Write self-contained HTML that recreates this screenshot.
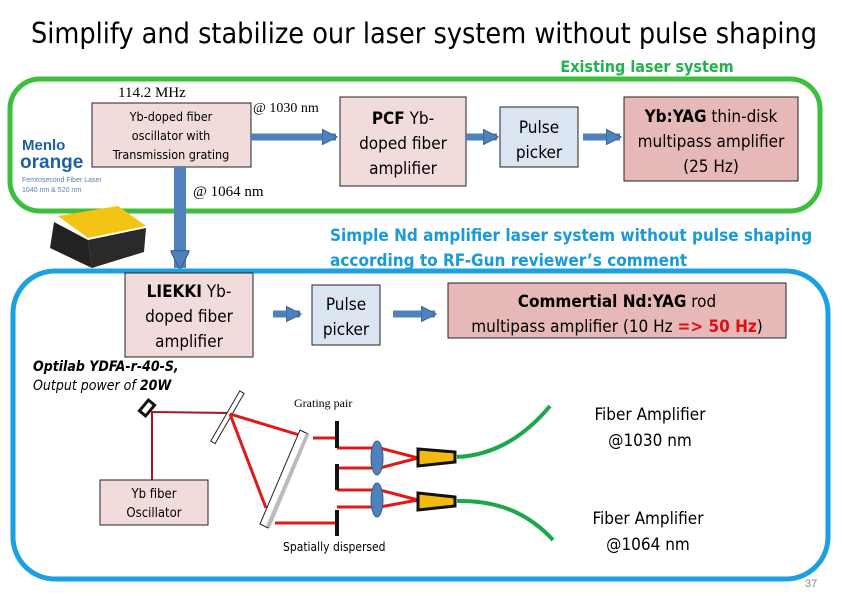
<!DOCTYPE html>
<html><head><meta charset="utf-8"><style>
html,body{margin:0;padding:0;background:#fff}
svg{display:block;font-family:"Liberation Sans",sans-serif}
.c{font-family:"DejaVu Sans Condensed","Liberation Sans",sans-serif}
.s{font-family:"Liberation Serif",serif}
</style></head><body>
<svg width="842" height="596" viewBox="0 0 842 596" xmlns="http://www.w3.org/2000/svg">
<defs>
<marker id="ah" viewBox="0 0 10 10" refX="9" refY="5" markerWidth="2.2" markerHeight="2.4" orient="auto" markerUnits="strokeWidth"><path d="M0,0 L10,5 L0,10 z" fill="#4f81bd" stroke="#385d8a" stroke-width="0.6"/></marker>
<marker id="ah2" viewBox="0 0 10 10" refX="9" refY="5" markerWidth="1.8" markerHeight="1.6" orient="auto" markerUnits="strokeWidth"><path d="M0,0 L10,5 L0,10 z" fill="#4f81bd" stroke="#385d8a" stroke-width="0.6"/></marker>
</defs>
<text x="424" y="43" text-anchor="middle" font-size="28.5" class="c" fill="#000">Simplify and stabilize our laser system without pulse shaping</text>
<text x="647" y="72" text-anchor="middle" font-size="16" font-weight="bold" fill="#22b24c" class="c">Existing laser system</text>
<rect x="10" y="79" width="810" height="132" rx="30" fill="none" stroke="#3cc03c" stroke-width="5"/>
<text x="22" y="150" font-size="15" font-weight="bold" fill="#1f5fa8">Menlo</text>
<text x="20" y="168" font-size="19" font-weight="bold" fill="#1f5fa8">orange</text>
<text x="22" y="182" font-size="7" fill="#5a7fb0">Femtosecond Fiber Laser</text>
<text x="22" y="192" font-size="7" fill="#5a7fb0">1040 nm &amp; 520 nm</text>
<polygon points="58,216 118,206 146,226 88,238" fill="#f3c414"/>
<polygon points="54,222 88,240 92,268 50,248" fill="#222"/>
<polygon points="88,240 146,228 144,252 92,268" fill="#2a2a2a"/>
<text x="118" y="97" font-size="15" class="s">114.2 MHz</text>
<rect x="92" y="103" width="159" height="64" fill="#f2dcdb" stroke="#222" stroke-width="1"/>
<text font-size="12.5" text-anchor="middle" class="c"><tspan x="171" y="121">Yb-doped fiber</tspan><tspan x="171" y="140">oscillator with</tspan><tspan x="171" y="159">Transmission grating</tspan></text>
<text x="253" y="112" font-size="14" class="s">@ 1030 nm</text>
<line x1="251" y1="137" x2="336" y2="137" stroke="#4f81bd" stroke-width="7" marker-end="url(#ah)"/>
<rect x="340" y="97" width="126" height="89" fill="#f2dcdb" stroke="#222" stroke-width="1"/>
<text font-size="17" text-anchor="middle" class="c"><tspan x="403" y="124"><tspan font-weight="bold">PCF</tspan> Yb-</tspan><tspan x="403" y="149">doped fiber</tspan><tspan x="403" y="174">amplifier</tspan></text>
<line x1="466" y1="137" x2="497" y2="137" stroke="#4f81bd" stroke-width="7" marker-end="url(#ah)"/>
<rect x="500" y="107" width="78" height="60" fill="#dbe5f1" stroke="#222" stroke-width="1"/>
<text font-size="17" text-anchor="middle" class="c"><tspan x="539" y="133">Pulse</tspan><tspan x="539" y="158">picker</tspan></text>
<line x1="583" y1="137" x2="620" y2="137" stroke="#4f81bd" stroke-width="7" marker-end="url(#ah)"/>
<rect x="624" y="97" width="174" height="84" fill="#e6b9b8" stroke="#222" stroke-width="1"/>
<text font-size="17" text-anchor="middle" class="c"><tspan x="711" y="122"><tspan font-weight="bold">Yb:YAG</tspan> thin-disk</tspan><tspan x="711" y="147">multipass amplifier</tspan><tspan x="711" y="172">(25 Hz)</tspan></text>
<line x1="180" y1="167" x2="180" y2="268" stroke="#4f81bd" stroke-width="12" marker-end="url(#ah2)"/>
<text x="193" y="196" font-size="15" class="s">@ 1064 nm</text>
<text font-size="17" font-weight="bold" fill="#1a9ad8" class="c"><tspan x="330" y="241">Simple Nd amplifier laser system without pulse shaping</tspan><tspan x="330" y="266">according to RF-Gun reviewer’s comment</tspan></text>
<rect x="13" y="271" width="815" height="308" rx="42" fill="none" stroke="#1ba1e2" stroke-width="5"/>
<rect x="125" y="273" width="128" height="84" fill="#f2dcdb" stroke="#222" stroke-width="1"/>
<text font-size="17" text-anchor="middle" class="c"><tspan x="189" y="297"><tspan font-weight="bold">LIEKKI</tspan> Yb-</tspan><tspan x="189" y="322">doped fiber</tspan><tspan x="189" y="347">amplifier</tspan></text>
<line x1="273" y1="314" x2="300" y2="314" stroke="#4f81bd" stroke-width="7" marker-end="url(#ah)"/>
<rect x="312" y="285" width="68" height="60" fill="#dbe5f1" stroke="#222" stroke-width="1"/>
<text font-size="17" text-anchor="middle" class="c"><tspan x="346" y="310">Pulse</tspan><tspan x="346" y="335">picker</tspan></text>
<line x1="393" y1="314" x2="435" y2="314" stroke="#4f81bd" stroke-width="7" marker-end="url(#ah)"/>
<rect x="448" y="283" width="338" height="55" fill="#e6b9b8" stroke="#222" stroke-width="1"/>
<text font-size="17" text-anchor="middle" class="c"><tspan x="617" y="307"><tspan font-weight="bold">Commertial Nd:YAG</tspan> rod</tspan><tspan x="617" y="332">multipass amplifier (10 Hz <tspan fill="#e01010" font-weight="bold">=&gt; 50 Hz</tspan>)</tspan></text>
<text font-size="14" font-style="italic" class="c"><tspan x="33" y="371" font-weight="bold">Optilab  YDFA-r-40-S,</tspan><tspan x="33" y="390">Output power of <tspan font-weight="bold">20W</tspan></tspan></text>
<rect x="140" y="404" width="14" height="8" transform="rotate(-50 147 408)" fill="#fff" stroke="#111" stroke-width="3"/>
<polyline points="152,480 152,412 230,413" fill="none" stroke="#a01820" stroke-width="2"/>
<rect x="225" y="388" width="5" height="58" transform="rotate(30 227 417)" fill="#fff" stroke="#222" stroke-width="1"/>
<g stroke="#e01818" stroke-width="3" fill="none">
<line x1="230" y1="414" x2="306" y2="437"/>
<line x1="230" y1="414" x2="266" y2="508"/>
<line x1="313" y1="438" x2="337" y2="438"/>
<line x1="337" y1="448" x2="377" y2="448"/>
<line x1="337" y1="468" x2="377" y2="468"/>
<line x1="337" y1="490" x2="377" y2="490"/>
<line x1="337" y1="507" x2="377" y2="507"/>
<line x1="275" y1="523" x2="337" y2="523"/>
<polyline points="380,448 418,458 380,468"/>
<polyline points="380,490 418,500 380,507"/>
</g>
<polygon points="300,430 308,434 268,528 260,524" fill="#fff" stroke="#222" stroke-width="1"/>
<polygon points="306,433 309,435 270,528 266,526" fill="#bbb"/>
<g stroke="#111" stroke-width="4">
<line x1="337" y1="421" x2="337" y2="448"/>
<line x1="337" y1="464" x2="337" y2="490"/>
<line x1="337" y1="510" x2="337" y2="536"/>
</g>
<ellipse cx="377" cy="458" rx="6" ry="17" fill="#4f81bd" stroke="#385d8a"/>
<ellipse cx="377" cy="500" rx="6" ry="17" fill="#4f81bd" stroke="#385d8a"/>
<polygon points="418,449 455,452 455,462 418,466" fill="#f5b90f" stroke="#111" stroke-width="3"/>
<polygon points="418,493 455,497 455,506 418,510" fill="#f5b90f" stroke="#111" stroke-width="3"/>
<path d="M457,457 C500,455 530,430 550,406" fill="none" stroke="#1aa84a" stroke-width="4"/>
<path d="M457,501 C500,500 530,515 553,540" fill="none" stroke="#1aa84a" stroke-width="4"/>
<rect x="100" y="480" width="108" height="45" fill="#f2dcdb" stroke="#222" stroke-width="1"/>
<text font-size="13" text-anchor="middle" class="c"><tspan x="154" y="498">Yb fiber</tspan><tspan x="154" y="517">Oscillator</tspan></text>
<text x="294" y="407" font-size="12" class="s">Grating pair</text>
<text x="283" y="551" font-size="12" class="c">Spatially dispersed</text>
<text font-size="17" text-anchor="middle" class="c"><tspan x="650" y="420">Fiber Amplifier</tspan><tspan x="650" y="446">@1030 nm</tspan><tspan x="648" y="524">Fiber Amplifier</tspan><tspan x="648" y="550">@1064 nm</tspan></text>
<text x="805" y="587" font-size="11" fill="#888">37</text>
</svg>
</body></html>
